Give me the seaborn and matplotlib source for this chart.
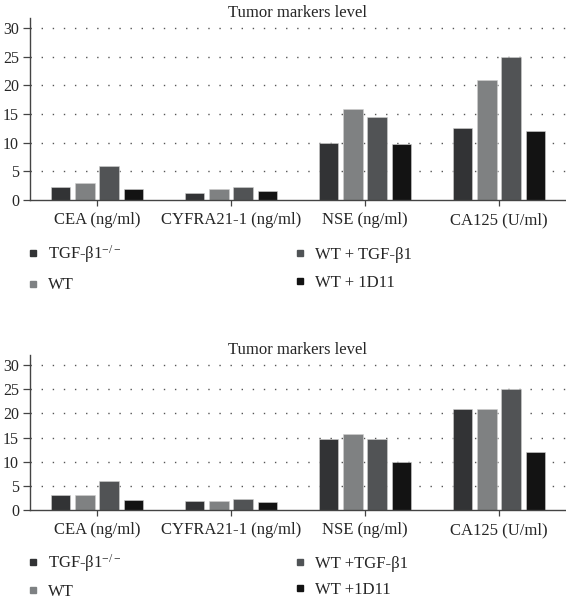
import numpy as np
import pandas as pd
import matplotlib
matplotlib.use("Agg")
import matplotlib.pyplot as plt
from matplotlib.lines import Line2D
import seaborn as sns

categories = ["CEA (ng/ml)", "CYFRA21-1 (ng/ml)", "NSE (ng/ml)", "CA125 (U/ml)"]
groups_top = ["TGF-β1$^{-/-}$", "WT", "WT + TGF-β1", "WT + 1D11"]
groups_bottom = ["TGF-β1$^{-/-}$", "WT", "WT +TGF-β1", "WT +1D11"]

top_ko = [2.3, 1.15, 10.0, 12.5]
top_wt = [3.0, 1.85, 15.8, 21.0]
top_tgf = [6.0, 2.3, 14.5, 25.0]
top_1d11 = [2.0, 1.5, 9.8, 12.0]

bot_ko = [3.1, 1.85, 14.7, 20.9]
bot_wt = [3.1, 1.85, 15.8, 21.0]
bot_tgf = [6.1, 2.35, 14.6, 25.0]
bot_1d11 = [2.1, 1.6, 9.9, 12.1]

yticks = [0, 5, 10, 15, 20, 25, 30]
title = "Tumor markers level"

colors = ["#323335", "#7e8183", "#505356", "#131313"]

sns.set_style("white")
plt.rcParams["font.family"] = ["Liberation Serif", "DejaVu Serif"]
plt.rcParams["mathtext.fontset"] = "custom"
plt.rcParams["mathtext.rm"] = "Liberation Serif"
plt.rcParams["mathtext.it"] = "Liberation Serif:italic"

W, H = 566, 601
DPI = 100
fig = plt.figure(figsize=(W / DPI, H / DPI), dpi=DPI)
FS = 12
FSPX = FS * DPI / 72.0


def px_axes(left, top, right, bottom):
    return fig.add_axes([left / W, 1 - bottom / H, (right - left) / W, (bottom - top) / H])


def draw(ax, series, groups, ytop):
    rows = []
    for g, vals in zip(groups, series):
        for c, v in zip(categories, vals):
            rows.append({"marker": c, "group": g, "value": v})
    df = pd.DataFrame(rows)
    sns.barplot(data=df, x="marker", y="value", hue="group", hue_order=groups,
                order=categories, palette=colors, width=0.725, gap=0.2,
                edgecolor="#d0d0d0", linewidth=0.4, legend=False, ax=ax)
    ax.set_xlim(-0.5, 3.5)
    ax.set_ylim(0, ytop)
    ax.set_yticks(yticks)
    ax.set_xlabel("")
    ax.set_ylabel("")
    for y in yticks[1:]:
        ax.axhline(y, color="#555555", linestyle=(0, (1, 7)), linewidth=1.0, zorder=0)
    for s in ["top", "right"]:
        ax.spines[s].set_visible(False)
    for s in ["left", "bottom"]:
        ax.spines[s].set_color("#444444")
        ax.spines[s].set_linewidth(1.0)
    ax.tick_params(axis="y", length=5, width=0.9, color="#444444", labelsize=11.5, pad=3, left=True)
    ax.tick_params(axis="x", length=4, width=0.9, color="#444444", labelsize=FS, pad=5, bottom=True)
    ax.set_title(title, fontsize=FS, pad=1)
    ax.grid(False)


def legend(groups, ytop_px, spacing):
    h = [Line2D([], [], marker="s", linestyle="", markersize=4.5, color=c) for c in colors]
    kw = dict(loc="upper left", bbox_to_anchor=(26.3 / W, 1 - ytop_px / H), frameon=False,
              fontsize=FS, ncol=2, handlelength=0.8, handletextpad=0.5, labelspacing=spacing,
              borderpad=0, borderaxespad=0)
    leg = fig.legend(h, groups, columnspacing=2.0, **kw)
    fig.canvas.draw()
    r = fig.canvas.get_renderer()
    right = max(t.get_window_extent(r).x1 for t in leg.get_texts()[:2])
    leg.remove()
    cs = (293.3 - right) / FSPX
    fig.legend(h, groups, columnspacing=cs, **kw)


ax1 = px_axes(30, 18, 566, 200)
draw(ax1, [top_ko, top_wt, top_tgf, top_1d11], groups_top, 31.74)
legend(groups_top, 243, 0.75)

ax2 = px_axes(30, 355, 566, 510)
draw(ax2, [bot_ko, bot_wt, bot_tgf, bot_1d11], groups_bottom, 32.07)
legend(groups_bottom, 552, 0.6)

fig.savefig("out.png", dpi=DPI)
